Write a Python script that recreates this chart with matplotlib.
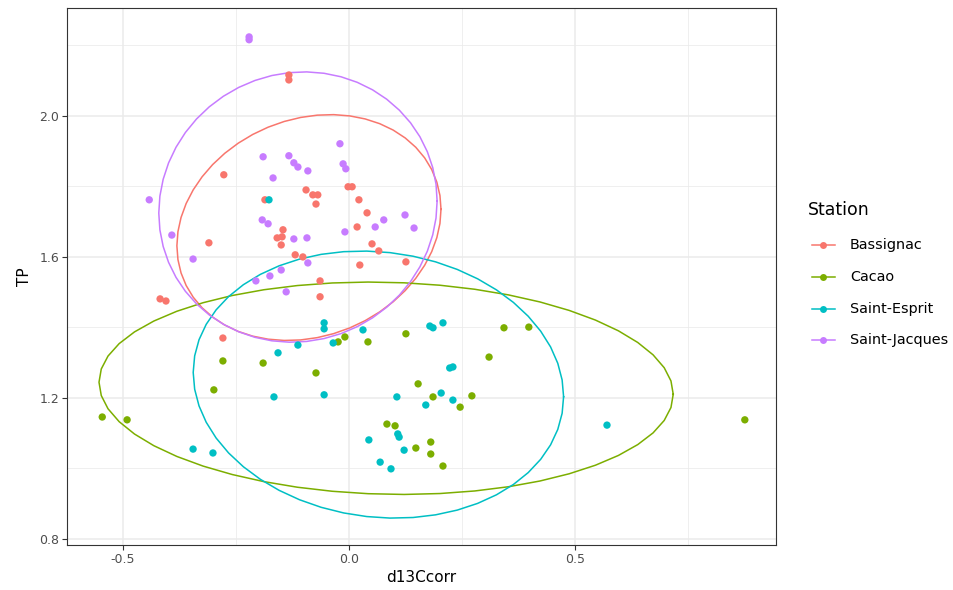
import numpy as np
import matplotlib
matplotlib.use("Agg")
import matplotlib.pyplot as plt
from matplotlib.lines import Line2D

stations = ["Bassignac", "Cacao", "Saint-Esprit", "Saint-Jacques"]
colors = ["#F8766D", "#7CAE00", "#00BFC4", "#C77CFF"]

bassignac_x = [-0.133, -0.133, -0.277, -0.186, -0.095, -0.080, -0.069, -0.073, -0.002, 0.007,
               0.022, 0.040, 0.018, 0.051, 0.024, 0.126, -0.064, -0.064, -0.119, -0.146,
               -0.148, -0.150, -0.159, -0.310, -0.418, -0.405, -0.279, -0.102, 0.066]
bassignac_y = [2.116, 2.102, 1.833, 1.762, 1.790, 1.776, 1.776, 1.750, 1.799, 1.799,
               1.762, 1.725, 1.685, 1.637, 1.577, 1.586, 1.532, 1.487, 1.606, 1.677,
               1.657, 1.634, 1.654, 1.640, 1.481, 1.475, 1.370, 1.600, 1.617]

cacao_x = [-0.546, -0.491, -0.299, -0.279, -0.190, -0.073, -0.024, -0.009, 0.042, 0.126,
           0.153, 0.186, 0.246, 0.272, 0.310, 0.343, 0.398, 0.084, 0.102, 0.148,
           0.181, 0.181, 0.208, 0.876]
cacao_y = [1.146, 1.138, 1.223, 1.305, 1.299, 1.271, 1.359, 1.373, 1.359, 1.382,
           1.240, 1.203, 1.174, 1.206, 1.316, 1.399, 1.401, 1.126, 1.121, 1.058,
           1.075, 1.041, 1.007, 1.138]

esprit_x = [-0.177, -0.055, -0.055, -0.035, -0.113, -0.157, 0.031, 0.179, 0.186, 0.208,
            0.223, 0.230, 0.204, 0.230, 0.170, 0.106, -0.055, -0.166, 0.044, 0.108,
            0.111, 0.122, 0.069, 0.093, -0.345, -0.301, 0.571]
esprit_y = [1.762, 1.413, 1.396, 1.356, 1.350, 1.328, 1.393, 1.404, 1.399, 1.413,
            1.285, 1.288, 1.214, 1.194, 1.180, 1.203, 1.209, 1.203, 1.081, 1.098,
            1.089, 1.052, 1.018, 0.999, 1.055, 1.044, 1.123]

jacques_x = [-0.221, -0.221, -0.190, -0.133, -0.122, -0.113, -0.091, -0.168, -0.442, -0.392,
             -0.345, -0.192, -0.179, -0.122, -0.093, -0.206, -0.175, -0.150, -0.139, -0.091,
             -0.020, -0.013, -0.007, 0.077, 0.058, 0.124, 0.144, -0.009]
jacques_y = [2.224, 2.216, 1.884, 1.887, 1.867, 1.855, 1.844, 1.824, 1.762, 1.662,
             1.594, 1.705, 1.694, 1.651, 1.654, 1.532, 1.546, 1.563, 1.501, 1.583,
             1.921, 1.864, 1.850, 1.705, 1.685, 1.719, 1.682, 1.671]

series_x = [bassignac_x, cacao_x, esprit_x, jacques_x]
series_y = [bassignac_y, cacao_y, esprit_y, jacques_y]

x_ticks = [-0.5, 0.0, 0.5]
x_ticklabels = ["-0.5", "0.0", "0.5"]
y_ticks = [0.8, 1.2, 1.6, 2.0]
y_ticklabels = ["0.8", "1.2", "1.6", "2.0"]


def cov_trob(x, nu=5, maxit=25, tol=0.01):
    n, p = x.shape
    wt = np.ones(n)
    loc = (wt[:, None] * x).sum(0) / wt.sum()
    w = np.sqrt(wt)
    for _ in range(maxit):
        w0 = w
        X = x - loc
        A = np.sqrt(w / w.sum())[:, None] * X
        _, d, vt = np.linalg.svd(A, full_matrices=False)
        wX = X @ vt.T @ np.diag(1 / d)
        Q = (wX ** 2).sum(1)
        w = (wt * (nu + p)) / (nu + Q)
        loc = (w[:, None] * x).sum(0) / w.sum()
        if np.all(np.abs(w - w0) < tol):
            break
    X = x - loc
    cov = (np.sqrt(w)[:, None] * X).T @ (np.sqrt(w)[:, None] * X) / wt.sum()
    return loc, cov


def stat_ellipse(xs, ys, level=0.95, segments=51):
    data = np.column_stack([xs, ys])
    n = len(xs)
    center, shape = cov_trob(data)
    dfn, dfd = 2, n - 1
    fq = (dfd / 2.0) * ((1 - level) ** (-2.0 / dfd) - 1)
    radius = np.sqrt(dfn * fq)
    ang = np.linspace(0, 2 * np.pi, segments)
    circ = np.column_stack([np.cos(ang), np.sin(ang)])
    R = np.linalg.cholesky(shape).T
    pts = center + radius * (circ @ R)
    return pts[:, 0], pts[:, 1]


W, H = 954, 590
fig = plt.figure(figsize=(W / 100, H / 100), dpi=100)
L, R_, T, B = 67, 776, 8, 545
ax = fig.add_axes([L / W, (H - B) / H, (R_ - L) / W, (B - T) / H])

for xs, ys, c in zip(series_x, series_y, colors):
    ex, ey = stat_ellipse(np.array(xs), np.array(ys))
    ax.plot(ex, ey, color=c, lw=1.1, zorder=3)
for xs, ys, c in zip(series_x, series_y, colors):
    ax.scatter(xs, ys, s=28, color=c, edgecolors="none", zorder=4)

ax.set_xlim(-0.624, 0.945)
ax.set_ylim(0.783, 2.306)
ax.set_xticks(x_ticks)
ax.set_xticklabels(x_ticklabels)
ax.set_yticks(y_ticks)
ax.set_yticklabels(y_ticklabels)
ax.set_xticks([-0.25, 0.25, 0.75], minor=True)
ax.set_yticks([1.0, 1.4, 1.8, 2.2], minor=True)
ax.grid(True, which="major", color="#EBEBEB", lw=1.1, zorder=0)
ax.grid(True, which="minor", color="#EBEBEB", lw=0.55, zorder=0)
ax.tick_params(which="minor", length=0)
ax.tick_params(which="major", length=3.5, width=0.8, color="#333333",
               labelsize=9, labelcolor="#4D4D4D", pad=2)
ax.set_axisbelow(True)
for s in ax.spines.values():
    s.set_color("#333333")
    s.set_linewidth(0.8)

ax.set_xlabel("d13Ccorr", fontsize=11, color="black", labelpad=3)
ax.set_ylabel("TP", fontsize=11, color="black", labelpad=5)

# legend
fig.text(808 / W, 1 - 210 / H, "Station", fontsize=12.5, va="center", ha="left")
ys_leg = [245, 277, 309, 340]
for name, c, yy in zip(stations, colors, ys_leg):
    yf = 1 - yy / H
    fig.add_artist(Line2D([812 / W, 835 / W], [yf, yf], color=c, lw=1.1,
                          transform=fig.transFigure))
    fig.add_artist(Line2D([823.5 / W], [yf], color=c, marker="o", markersize=5,
                          markeredgewidth=0, transform=fig.transFigure))
    fig.text(850 / W, yf, name, fontsize=10.4, va="center", ha="left")

fig.savefig("out.png", dpi=100)
